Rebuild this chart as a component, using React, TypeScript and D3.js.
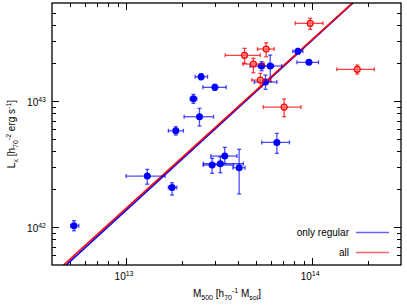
// Lx - M500 scaling relation, log-log with error bars and two fits
import { useEffect, useRef } from 'react';
import * as d3 from 'd3';

// Masses in units of 1e13 h70^-1 Msol: [value, low, high]
const regularMass: number[][] = [
  [0.525, 0.504, 0.557], [1.30, 1.00, 1.62], [1.767, 1.688, 1.874], [1.85, 1.688, 2.033],
  [2.30, 2.21, 2.40], [2.53, 2.35, 2.74], [2.48, 2.05, 2.95], [3.00, 2.585, 3.45],
  [2.90, 2.60, 3.78], [3.21, 2.60, 4.27], [3.39, 2.854, 3.94], [4.05, 3.75, 4.36],
  [6.46, 5.36, 7.55], [5.35, 4.64, 6.19], [5.95, 5.14, 6.87], [5.61, 4.88, 6.46],
  [8.38, 7.87, 8.91], [9.60, 8.28, 10.81],
];
// Luminosities in units of 1e42 h70^-2 erg/s: [value, low, high]
const regularLum: number[][] = [
  [1.024, 0.935, 1.122], [2.54, 2.19, 2.87], [2.065, 1.795, 2.247], [5.81, 5.37, 6.25],
  [10.43, 9.59, 11.30], [15.59, 14.76, 16.47], [7.51, 6.33, 8.75], [12.85, 12.16, 13.57],
  [3.105, 2.67, 3.51], [3.18, 2.70, 3.61], [3.66, 3.20, 4.29], [2.955, 1.83, 4.14],
  [4.70, 3.85, 5.54], [18.96, 17.40, 20.51], [18.96, 14.23, 23.18], [14.15, 12.38, 16.08],
  [24.80, 23.60, 26.11], [20.28, 19.49, 21.15],
];
const otherMass: number[][] = [
  [4.33, 3.41, 5.25], [5.66, 5.08, 6.25], [4.83, 4.24, 5.52], [5.27, 4.74, 6.00],
  [9.76, 8.10, 11.42], [17.46, 13.58, 21.54], [7.07, 5.47, 8.70],
];
const otherLum: number[][] = [
  [23.05, 19.92, 26.20], [25.86, 22.47, 29.02], [19.67, 16.77, 21.83], [14.68, 12.85, 16.59],
  [41.37, 37.07, 45.33], [17.85, 16.38, 19.31], [8.96, 7.51, 10.37],
];

// Fits: L = norm * (M / 1e14)^slope  (norm in 1e42)
const fitNames = ['only regular', 'all'];
const fitNorms = [30.4, 30.8];
const fitSlopes = [1.35, 1.34];
const fitColors = ['#0000ff', '#ff0000'];

const xTicks = [1, 10];
const xTickExp = ['13', '14'];
const yTicks = [1, 10];
const yTickExp = ['42', '43'];

const W = 407;
const H = 305;
const margin = { left: 52, top: 3, right: 6, bottom: 40 };

const App = () => {
  const ref = useRef<SVGSVGElement>(null);

  useEffect(() => {
    const svg = d3.select(ref.current);
    svg.selectAll('*').remove();

    const x = d3.scaleLog().domain([0.4, 30]).range([margin.left, W - margin.right]);
    const y = d3.scaleLog().domain([0.5, 60]).range([H - margin.bottom, margin.top]);
    const [x0, x1] = x.range();
    const [y1, y0] = y.range();
    const font = 'Liberation Sans, Arial, sans-serif';

    svg.append('clipPath').attr('id', 'plot-clip')
      .append('rect').attr('x', x0).attr('y', y0).attr('width', x1 - x0).attr('height', y1 - y0);

    // Ticks (inward, on all four sides)
    const xMinor: number[] = [];
    [0.1, 1, 10].forEach(d => { for (let k = 1; k <= 9; k++) { const v = d * k; if (v > 0.4 && v < 30) xMinor.push(v); } });
    const yMinor: number[] = [];
    [0.1, 1, 10].forEach(d => { for (let k = 1; k <= 9; k++) { const v = d * k; if (v > 0.5 && v < 60) yMinor.push(v); } });

    const ticks = svg.append('g').attr('stroke', '#000').attr('stroke-width', 1);
    xMinor.forEach(v => {
      const len = xTicks.includes(v) ? 7 : 4;
      const px = Math.round(x(v)) + 0.5;
      ticks.append('line').attr('x1', px).attr('x2', px).attr('y1', y1).attr('y2', y1 - len);
      ticks.append('line').attr('x1', px).attr('x2', px).attr('y1', y0).attr('y2', y0 + len);
    });
    yMinor.forEach(v => {
      const len = yTicks.includes(v) ? 7 : 4;
      const py = Math.round(y(v)) + 0.5;
      ticks.append('line').attr('x1', x0).attr('x2', x0 + len).attr('y1', py).attr('y2', py);
      ticks.append('line').attr('x1', x1).attr('x2', x1 - len).attr('y1', py).attr('y2', py);
    });

    // Tick labels 10^n
    xTicks.forEach((v, i) => {
      const t = svg.append('text').attr('x', x(v) - 2).attr('y', y1 + 15)
        .attr('text-anchor', 'middle').attr('font-family', font).attr('font-size', 10);
      t.append('tspan').text('10');
      t.append('tspan').attr('dy', -4).attr('font-size', 7).text(xTickExp[i]);
    });
    yTicks.forEach((v, i) => {
      const t = svg.append('text').attr('x', x0 - 6).attr('y', y(v) + 5)
        .attr('text-anchor', 'end').attr('font-family', font).attr('font-size', 10);
      t.append('tspan').text('10');
      t.append('tspan').attr('dy', -4).attr('font-size', 7).text(yTickExp[i]);
    });

    // Axis titles
    const xt = svg.append('text').attr('x', 227).attr('y', 297).attr('text-anchor', 'middle')
      .attr('font-family', font).attr('font-size', 10);
    xt.append('tspan').text('M');
    xt.append('tspan').attr('dy', 3).attr('font-size', 7).text('500');
    xt.append('tspan').attr('dy', -3).text(' [h');
    xt.append('tspan').attr('dy', 3).attr('font-size', 7).text('70');
    xt.append('tspan').attr('dy', -7).attr('font-size', 7).text('-1');
    xt.append('tspan').attr('dy', 4).text(' M');
    xt.append('tspan').attr('dy', 3).attr('font-size', 7).text('sol');
    xt.append('tspan').attr('dy', -3).text(']');

    const yt = svg.append('text').attr('transform', 'translate(15,134) rotate(-90)')
      .attr('text-anchor', 'middle').attr('font-family', font).attr('font-size', 10);
    yt.append('tspan').text('L');
    yt.append('tspan').attr('dy', 3).attr('font-size', 7).text('x');
    yt.append('tspan').attr('dy', -3).text(' [h');
    yt.append('tspan').attr('dy', 3).attr('font-size', 7).text('70');
    yt.append('tspan').attr('dy', -7).attr('font-size', 7).text('-2');
    yt.append('tspan').attr('dy', 4).text(' erg s');
    yt.append('tspan').attr('dy', -4).attr('font-size', 7).text('-1');
    yt.append('tspan').attr('dy', 4).text(']');

    // Fit lines
    const plot = svg.append('g').attr('clip-path', 'url(#plot-clip)');
    fitNames.forEach((_, i) => {
      const pts = [0.4, 30].map(m => [x(m), y(fitNorms[i] * Math.pow(m / 10, fitSlopes[i]))]);
      plot.append('path').attr('d', d3.line()(pts as [number, number][]))
        .attr('stroke', fitColors[i]).attr('stroke-width', 1.6).attr('fill', 'none');
    });

    // Error bars and markers
    const drawPoints = (mass: number[][], lum: number[][], color: string, barColor: string, filled: boolean) => {
      const g = plot.append('g');
      mass.forEach((m, i) => {
        const l = lum[i];
        const cx = x(m[0]);
        const cy = y(l[0]);
        const bars = g.append('g').attr('stroke', barColor).attr('stroke-width', 1.3);
        bars.append('line').attr('x1', x(m[1])).attr('x2', x(m[2])).attr('y1', cy).attr('y2', cy);
        bars.append('line').attr('x1', cx).attr('x2', cx).attr('y1', y(l[1])).attr('y2', y(l[2]));
        [m[1], m[2]].forEach(v => bars.append('line').attr('x1', x(v)).attr('x2', x(v)).attr('y1', cy - 2).attr('y2', cy + 2));
        [l[1], l[2]].forEach(v => bars.append('line').attr('x1', cx - 2).attr('x2', cx + 2).attr('y1', y(v)).attr('y2', y(v)));
      });
      mass.forEach((m, i) => {
        g.append('circle').attr('cx', x(m[0])).attr('cy', y(lum[i][0]))
          .attr('r', filled ? 3.5 : 3)
          .attr('fill', filled ? color : 'rgba(255,120,120,0.6)')
          .attr('stroke', color).attr('stroke-width', filled ? 0 : 1.2);
      });
    };
    drawPoints(regularMass, regularLum, '#0000ff', 'rgba(0,0,255,0.7)', true);
    drawPoints(otherMass, otherLum, '#ff0000', 'rgba(255,0,0,0.75)', false);

    // Legend
    fitNames.forEach((name, i) => {
      const ly = 236 + i * 20;
      svg.append('text').attr('x', 349).attr('y', ly).attr('text-anchor', 'end')
        .attr('font-family', font).attr('font-size', 10).text(name);
      svg.append('line').attr('x1', 356).attr('x2', 389).attr('y1', ly - 3.5).attr('y2', ly - 3.5)
        .attr('stroke', fitColors[i]).attr('stroke-opacity', 0.6).attr('stroke-width', 1.3);
    });

    // Frame
    svg.append('rect').attr('x', x0).attr('y', y0).attr('width', x1 - x0).attr('height', y1 - y0)
      .attr('fill', 'none').attr('stroke', '#000').attr('stroke-width', 1.3);
  }, []);

  return (
    <svg ref={ref} width={W} height={H}
      style={{ position: 'absolute', left: 0, top: 0, background: '#fff' }} />
  );
};

export default App;
